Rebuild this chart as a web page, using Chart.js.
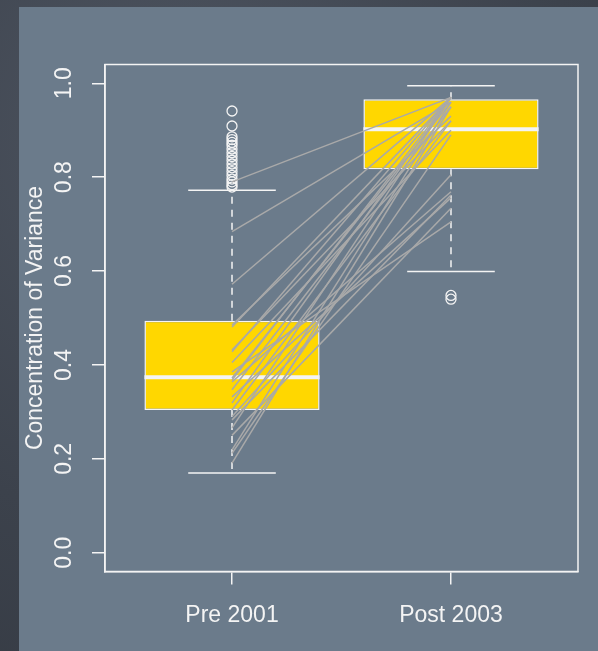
<!DOCTYPE html>
<html>
<head>
<meta charset="utf-8">
<script src="https://cdn.jsdelivr.net/npm/chart.js@4"></script>
<style>
  html, body { margin: 0; padding: 0; }
  body {
    width: 598px; height: 651px; overflow: hidden; position: relative;
    background: radial-gradient(circle at 30% 20%, #4d5460 0%, #3c424c 60%, #353a43 100%);
  }
  #panel {
    position: absolute; left: 19px; top: 7px; width: 579px; height: 644px;
    background: #6b7b8b;
  }
</style>
</head>
<body>
<div id="panel"><canvas id="myChart" width="579" height="644"></canvas></div>
<script>
// groups and box stats
const groups = ["Pre 2001", "Post 2003"];
const groupX = [1, 2];
const whiskerLow = [0.170, 0.599];
const boxQ1 = [0.304, 0.817];
const boxMedian = [0.374, 0.902];
const boxQ3 = [0.494, 0.966];
const whiskerHigh = [0.772, 0.995];

const preOutliers = [0.941, 0.909, 0.886, 0.880, 0.874, 0.868, 0.860, 0.852, 0.844, 0.836, 0.828, 0.820, 0.812, 0.804, 0.796, 0.790, 0.784, 0.779];
const postOutliers = [0.548, 0.540];

// paired values: each gray line goes from pre to post
const pairPre = [0.790, 0.684, 0.572, 0.485, 0.481, 0.432, 0.428, 0.405, 0.385, 0.372, 0.368, 0.364, 0.347, 0.332, 0.319, 0.304, 0.290, 0.283, 0.266, 0.250, 0.219, 0.212, 0.191];
const pairPost = [0.970, 0.960, 0.970, 0.930, 0.970, 0.920, 0.970, 0.900, 0.705, 0.960, 0.970, 0.769, 0.950, 0.756, 0.970, 0.920, 0.805, 0.762, 0.970, 0.734, 0.960, 0.890, 0.950];

const yTicks = [0, 0.2, 0.4, 0.6, 0.8, 1.0];

const white = "#f4f4f4";
const gold = "#ffd700";
const pairGray = "#a9a9a9";
const font = { family: "'Liberation Sans', Arial, sans-serif", size: 23 };

function seg(x1, y1, x2, y2, color, width, dash, order) {
  return {
    type: "line",
    data: [{ x: x1, y: y1 }, { x: x2, y: y2 }],
    borderColor: color,
    borderWidth: width,
    borderDash: dash || [],
    pointRadius: 0,
    fill: false,
    order: order
  };
}

const datasets = [];

// boxes
datasets.push({
  type: "bar",
  data: groupX.map((x, i) => ({ x: x, y: [boxQ1[i], boxQ3[i]] })),
  backgroundColor: gold,
  borderColor: white,
  borderWidth: 1.5,
  borderSkipped: false,
  categoryPercentage: 0.8,
  barPercentage: 1,
  grouped: false,
  order: 10
});

for (let i = 0; i < groupX.length; i++) {
  const x = groupX[i];
  datasets.push(seg(x - 0.4, boxMedian[i], x + 0.4, boxMedian[i], white, 4, null, 9));
  datasets.push(seg(x, boxQ3[i], x, whiskerHigh[i], white, 1.5, [7, 6], 8));
  datasets.push(seg(x, boxQ1[i], x, whiskerLow[i], white, 1.5, [7, 6], 8));
  datasets.push(seg(x - 0.2, whiskerHigh[i], x + 0.2, whiskerHigh[i], white, 1.5, null, 8));
  datasets.push(seg(x - 0.2, whiskerLow[i], x + 0.2, whiskerLow[i], white, 1.5, null, 8));
}

// outliers
datasets.push({
  type: "scatter",
  data: preOutliers.map(v => ({ x: 1, y: v })).concat(postOutliers.map(v => ({ x: 2, y: v }))),
  pointRadius: 5,
  borderColor: white,
  borderWidth: 1.3,
  backgroundColor: "rgba(0,0,0,0)",
  order: 7
});

// gray pair lines on top
for (let i = 0; i < pairPre.length; i++) {
  datasets.push(seg(1, pairPre[i], 2, pairPost[i], pairGray, 1.5, null, 1));
}

const frame = {
  id: "frame",
  afterDraw(chart) {
    const a = chart.chartArea;
    const ctx = chart.ctx;
    ctx.save();
    ctx.strokeStyle = white;
    ctx.lineWidth = 1.5;
    ctx.strokeRect(a.left, a.top, a.right - a.left, a.bottom - a.top);
    ctx.restore();
  }
};

const ctx = document.getElementById("myChart").getContext("2d");
new Chart(ctx, {
  data: { datasets: datasets },
  plugins: [frame],
  options: {
    responsive: false,
    animation: false,
    layout: { padding: { left: 0, top: 57.5, right: 20, bottom: 0 } },
    plugins: { legend: { display: false }, tooltip: { enabled: false } },
    scales: {
      x: {
        type: "linear",
        min: 0.42,
        max: 2.58,
        offset: false,
        afterBuildTicks: s => { s.ticks = groupX.map(v => ({ value: v })); },
        afterFit: s => { s.height = 79.5; },
        grid: { display: true, offset: false, drawOnChartArea: false, drawTicks: true, tickLength: 13, color: white, lineWidth: 1.5 },
        border: { display: true, color: white, width: 1.5 },
        ticks: {
          color: white,
          font: font,
          padding: 17,
          maxRotation: 0,
          callback: v => groups[groupX.indexOf(v)] || ""
        }
      },
      y: {
        type: "linear",
        min: -0.04,
        max: 1.04,
        afterBuildTicks: s => { s.ticks = yTicks.map(v => ({ value: v })); },
        afterFit: s => { s.width = 86; },
        grid: { display: true, drawOnChartArea: false, drawTicks: true, tickLength: 13, color: white, lineWidth: 1.5 },
        border: { display: true, color: white, width: 1.5 },
        ticks: {
          color: white,
          font: font,
          padding: 11,
          minRotation: 90,
          maxRotation: 90,
          crossAlign: "center",
          callback: v => v.toFixed(1)
        },
        title: {
          display: true,
          text: "Concentration of Variance",
          color: white,
          font: font,
          padding: { top: 3, bottom: 0 }
        }
      }
    }
  }
});
</script>
</body>
</html>
